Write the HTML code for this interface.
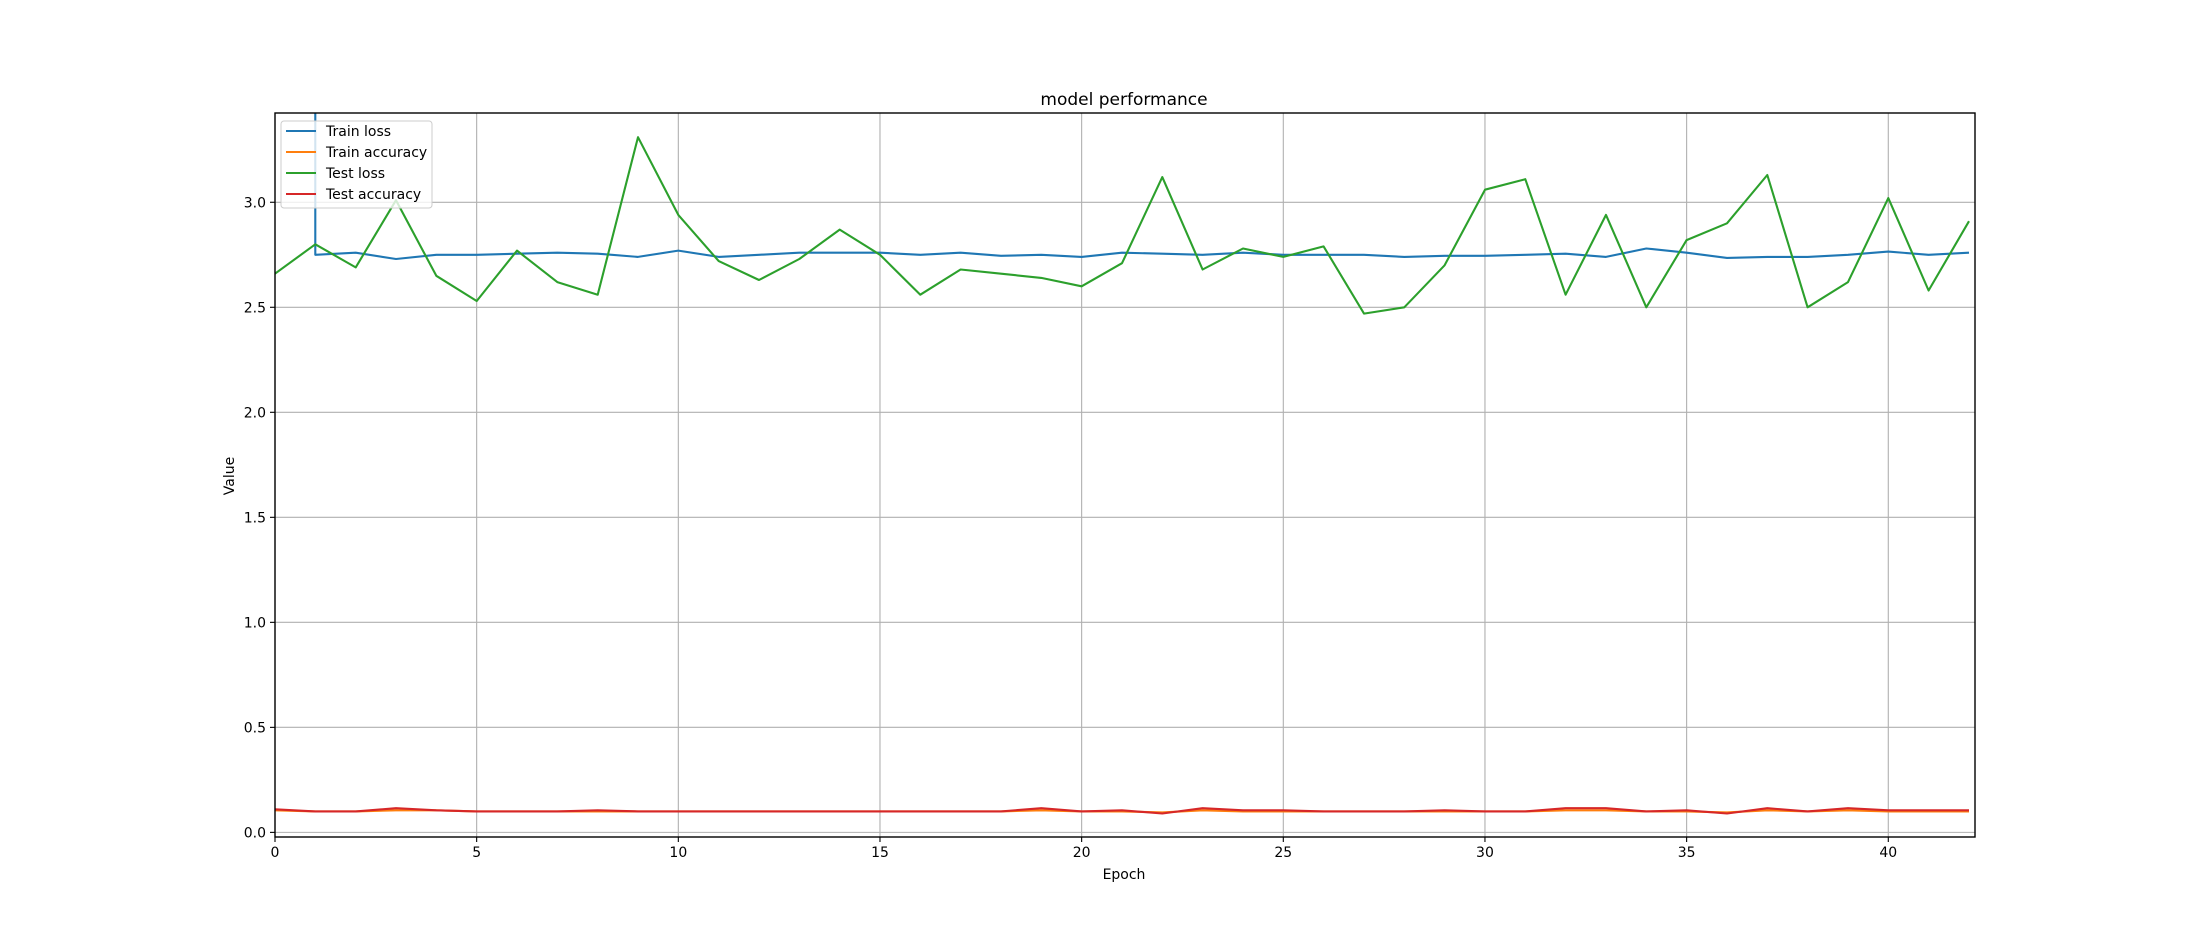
<!DOCTYPE html>
<html><head><meta charset="utf-8"><style>
body{margin:0;background:#fff}
svg{display:block;font-family:"DejaVu Sans","Liberation Sans",sans-serif}
</style></head><body>
<svg id="chart" width="2194" height="941" viewBox="0 0 2194 941">
<rect width="2194" height="941" fill="#fff"/>
<defs><clipPath id="clip"><rect x="275" y="113" width="1700" height="724"/></clipPath></defs>
<g id="grid"></g>
<g id="series" clip-path="url(#clip)"></g>
<rect x="275" y="113" width="1700" height="724" fill="none" stroke="#000" stroke-width="1.4"/>
<g id="ticks"></g>
<text x="1124" y="105" font-size="17" text-anchor="middle">model performance</text>
<text x="1124" y="879" font-size="14" text-anchor="middle">Epoch</text>
<text x="234" y="476" font-size="14" text-anchor="middle" transform="rotate(-90 234 476)">Value</text>
<g id="legend">
<rect x="281" y="121" width="151" height="87" rx="3" fill="#fff" fill-opacity="0.8" stroke="#ccc"/>
</g>
</svg>
<script>
const epochs = [0,1,2,3,4,5,6,7,8,9,10,11,12,13,14,15,16,17,18,19,20,21,22,23,24,25,26,27,28,29,30,31,32,33,34,35,36,37,38,39,40,41,42];
const trainLoss = [5000,2.75,2.76,2.73,2.75,2.75,2.755,2.76,2.755,2.74,2.77,2.74,2.75,2.76,2.76,2.76,2.75,2.76,2.745,2.75,2.74,2.76,2.755,2.75,2.76,2.75,2.75,2.75,2.74,2.745,2.745,2.75,2.755,2.74,2.78,2.76,2.735,2.74,2.74,2.75,2.765,2.75,2.76];
const trainAcc = [0.105,0.10,0.10,0.105,0.105,0.10,0.10,0.10,0.10,0.10,0.10,0.10,0.10,0.10,0.10,0.10,0.10,0.10,0.10,0.105,0.10,0.10,0.095,0.105,0.10,0.10,0.10,0.10,0.10,0.10,0.10,0.10,0.105,0.105,0.10,0.10,0.095,0.105,0.10,0.105,0.10,0.10,0.10];
const testLoss = [2.66,2.80,2.69,3.01,2.65,2.53,2.77,2.62,2.56,3.31,2.94,2.72,2.63,2.73,2.87,2.75,2.56,2.68,2.66,2.64,2.60,2.71,3.12,2.68,2.78,2.74,2.79,2.47,2.50,2.70,3.06,3.11,2.56,2.94,2.50,2.82,2.90,3.13,2.50,2.62,3.02,2.58,2.91];
const testAcc = [0.11,0.10,0.10,0.115,0.105,0.10,0.10,0.10,0.105,0.10,0.10,0.10,0.10,0.10,0.10,0.10,0.10,0.10,0.10,0.115,0.10,0.105,0.09,0.115,0.105,0.105,0.10,0.10,0.10,0.105,0.10,0.10,0.115,0.115,0.10,0.105,0.09,0.115,0.10,0.115,0.105,0.105,0.105];
const xTicks = [0,5,10,15,20,25,30,35,40];
const yTicks = [0.0,0.5,1.0,1.5,2.0,2.5,3.0];
const xLabels = ["0","5","10","15","20","25","30","35","40"];
const yLabels = ["0.0","0.5","1.0","1.5","2.0","2.5","3.0"];
const seriesNames = ["Train loss","Train accuracy","Test loss","Test accuracy"];

const NS="http://www.w3.org/2000/svg";
const X0=275,X1=1975,Y0=837,Y1=113, xmin=0,xmax=42.15, ymin=-0.022,ymax=3.425;
function xs(v){return X0+(v-xmin)/(xmax-xmin)*(X1-X0);}
function ys(v){return Y0-(v-ymin)/(ymax-ymin)*(Y0-Y1);}
function mk(tag,attrs,parent){const e=document.createElementNS(NS,tag);for(const k in attrs)e.setAttribute(k,attrs[k]);parent.appendChild(e);return e;}
const grid=document.getElementById('grid'),ticks=document.getElementById('ticks'),ser=document.getElementById('series'),leg=document.getElementById('legend');
xTicks.forEach((t,i)=>{
  const g=mk('line',{x1:xs(t),x2:xs(t),y1:Y1,y2:Y0,stroke:'#b0b0b0','stroke-width':1.1},grid);
  
  
  const tk=mk('line',{x1:xs(t),x2:xs(t),y1:Y0,y2:Y0+5,stroke:'#000','stroke-width':1.1},ticks);
  
  
  const tx=mk('text',{x:xs(t),y:Y0+20,'font-size':14,'text-anchor':'middle'},ticks);
  tx.textContent=xLabels[i];
  
  
});
yTicks.forEach((t,i)=>{
  const g=mk('line',{x1:X0,x2:X1,y1:ys(t),y2:ys(t),stroke:'#b0b0b0','stroke-width':1.1},grid);
  
  
  const tk=mk('line',{x1:X0-5,x2:X0,y1:ys(t),y2:ys(t),stroke:'#000','stroke-width':1.1},ticks);
  
  
  const tx=mk('text',{x:X0-9,y:ys(t)+5,'font-size':14,'text-anchor':'end'},ticks);
  tx.textContent=yLabels[i];
  
  
});
const colors=['#1f77b4','#ff7f0e','#2ca02c','#d62728'];
const data=[trainLoss,trainAcc,testLoss,testAcc];
const lineNames=['train-loss-line','train-accuracy-line','test-loss-line','test-accuracy-line'];
data.forEach((d,k)=>{
  const pts=epochs.map((e,i)=>xs(e).toFixed(1)+','+ys(d[i]).toFixed(1)).join(' ');
  const p=mk('polyline',{points:pts,fill:'none',stroke:colors[k],'stroke-width':2.1,'stroke-linejoin':'round'},ser);
  
  
});
seriesNames.forEach((n,k)=>{
  const y=131+k*21;
  const l=mk('line',{x1:286,x2:316,y1:y,y2:y,stroke:colors[k],'stroke-width':2.1},leg);
  
  
  const t=mk('text',{x:326,y:y+5,'font-size':14},leg);
  t.textContent=n;
  
  
});
</script>
</body></html>
